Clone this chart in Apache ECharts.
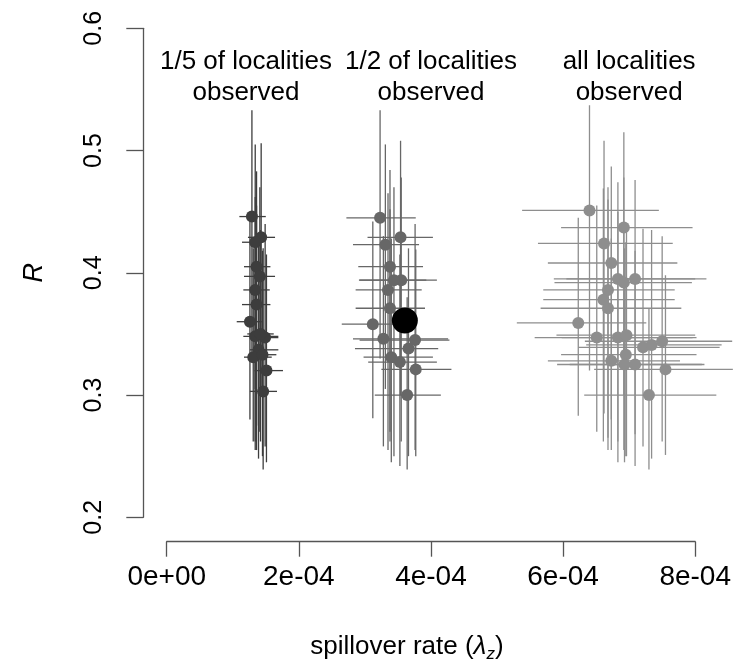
<!DOCTYPE html>
<html>
<head>
<meta charset="utf-8">
<script src="https://cdn.jsdelivr.net/npm/echarts@6/dist/echarts.min.js"></script>
<style>
  html, body { margin: 0; padding: 0; background: #fff; }
  #main { width: 734px; height: 670px; }
</style>
</head>
<body>
<div id="main"></div>
<script>
// spillover rate in units of 1e-4
const xTickLabels = ['0e+00', '2e-04', '4e-04', '6e-04', '8e-04'];

// 1/5 of localities observed
const g1X   = [1.29, 1.43, 1.34, 1.36, 1.41, 1.34, 1.36, 1.26, 1.34, 1.49, 1.42, 1.39, 1.31, 1.45, 1.51, 1.46];
const g1Y   = [0.446, 0.429, 0.425, 0.405, 0.397, 0.386, 0.374, 0.360, 0.348, 0.347, 0.350, 0.337, 0.331, 0.333, 0.320, 0.303];
const g1XLo = [1.10, 1.23, 1.14, 1.17, 1.17, 1.16, 1.14, 1.06, 1.16, 1.30, 1.22, 1.26, 1.17, 1.28, 1.33, 1.26];
const g1XHi = [1.50, 1.64, 1.44, 1.57, 1.64, 1.56, 1.57, 1.44, 1.69, 1.69, 1.62, 1.69, 1.59, 1.66, 1.76, 1.67];
const g1YLo = [0.330, 0.300, 0.305, 0.275, 0.270, 0.262, 0.255, 0.280, 0.255, 0.258, 0.262, 0.248, 0.262, 0.250, 0.245, 0.239];
const g1YHi = [0.533, 0.506, 0.505, 0.483, 0.470, 0.462, 0.455, 0.445, 0.430, 0.440, 0.435, 0.425, 0.420, 0.418, 0.415, 0.420];

// 1/2 of localities observed
const g2X   = [3.23, 3.54, 3.31, 3.38, 3.55, 3.44, 3.35, 3.38, 3.12, 3.28, 3.76, 3.66, 3.40, 3.53, 3.77, 3.64];
const g2Y   = [0.445, 0.429, 0.423, 0.405, 0.394, 0.394, 0.386, 0.371, 0.358, 0.346, 0.345, 0.338, 0.331, 0.327, 0.321, 0.300];
const g2XLo = [2.72, 3.04, 2.82, 2.90, 2.91, 2.92, 2.86, 2.86, 2.65, 2.82, 2.92, 2.85, 2.98, 3.05, 3.25, 3.15];
const g2XHi = [3.77, 4.03, 3.82, 3.88, 4.09, 3.93, 3.86, 3.91, 3.63, 4.26, 4.28, 4.11, 4.03, 4.09, 4.31, 4.15];
const g2YLo = [0.330, 0.300, 0.305, 0.270, 0.262, 0.250, 0.255, 0.262, 0.281, 0.258, 0.255, 0.250, 0.245, 0.242, 0.250, 0.239];
const g2YHi = [0.533, 0.508, 0.505, 0.484, 0.478, 0.470, 0.465, 0.452, 0.442, 0.430, 0.440, 0.420, 0.428, 0.415, 0.419, 0.380];

// all localities observed
const g3X   = [6.40, 6.92, 6.62, 6.73, 6.83, 6.92, 7.09, 6.68, 6.61, 6.68, 6.23, 6.51, 6.83, 6.96, 7.21, 7.34, 7.50, 6.95, 6.73, 6.93, 7.09, 7.55, 7.30];
const g3Y   = [0.451, 0.437, 0.424, 0.408, 0.395, 0.392, 0.395, 0.386, 0.378, 0.371, 0.359, 0.347, 0.347, 0.349, 0.339, 0.341, 0.344, 0.333, 0.328, 0.325, 0.325, 0.321, 0.300];
const g3XLo = [5.38, 5.97, 5.62, 5.77, 5.86, 5.87, 6.05, 5.70, 5.70, 5.66, 5.30, 5.57, 5.98, 5.90, 6.23, 6.35, 6.33, 5.97, 5.77, 5.91, 6.10, 6.47, 6.32];
const g3XHi = [7.45, 7.96, 7.66, 7.73, 8.17, 7.95, 8.00, 7.69, 7.69, 7.79, 7.26, 8.02, 7.96, 8.00, 8.37, 8.40, 8.56, 8.02, 7.77, 8.14, 8.10, 8.57, 8.32];
const g3YLo = [0.320, 0.300, 0.285, 0.280, 0.262, 0.255, 0.268, 0.265, 0.262, 0.255, 0.283, 0.270, 0.245, 0.250, 0.258, 0.248, 0.262, 0.250, 0.255, 0.245, 0.242, 0.251, 0.239];
const g3YHi = [0.537, 0.515, 0.508, 0.487, 0.474, 0.478, 0.476, 0.470, 0.469, 0.460, 0.445, 0.455, 0.450, 0.440, 0.436, 0.435, 0.430, 0.425, 0.428, 0.420, 0.418, 0.398, 0.371];

// true value
const trueX = [3.605];
const trueY = [0.361];

const groupLabels = ['1/5 of localities\nobserved', '1/2 of localities\nobserved', 'all localities\nobserved'];
const groupLabelX = [1.2, 4.0, 7.0];
const groupLabelY = 0.56;

const groups = [
  { x: g1X, y: g1Y, xlo: g1XLo, xhi: g1XHi, ylo: g1YLo, yhi: g1YHi, color: '#3d3d3d' },
  { x: g2X, y: g2Y, xlo: g2XLo, xhi: g2XHi, ylo: g2YLo, yhi: g2YHi, color: '#676767' },
  { x: g3X, y: g3Y, xlo: g3XLo, xhi: g3XHi, ylo: g3YLo, yhi: g3YHi, color: '#8e8e8e' }
];

function errorBars(color) {
  return function (params, api) {
    const x = api.value(0), y = api.value(1);
    const l = api.coord([api.value(2), y]);
    const r = api.coord([api.value(3), y]);
    const b = api.coord([x, api.value(4)]);
    const t = api.coord([x, api.value(5)]);
    const st = { stroke: color, lineWidth: 1.3 };
    return {
      type: 'group',
      children: [
        { type: 'line', shape: { x1: l[0], y1: l[1], x2: r[0], y2: r[1] }, style: st },
        { type: 'line', shape: { x1: b[0], y1: b[1], x2: t[0], y2: t[1] }, style: st }
      ]
    };
  };
}

const series = [];
groups.forEach(function (g) {
  series.push({
    type: 'custom',
    clip: false,
    renderItem: errorBars(g.color),
    encode: { x: 0, y: 1 },
    data: g.x.map(function (v, i) { return [v, g.y[i], g.xlo[i], g.xhi[i], g.ylo[i], g.yhi[i]]; }),
    silent: true
  });
});
groups.forEach(function (g) {
  series.push({
    type: 'scatter',
    clip: false,
    symbolSize: 12,
    itemStyle: { color: g.color, opacity: 1 },
    data: g.x.map(function (v, i) { return [v, g.y[i]]; }),
    silent: true
  });
});
series.push({
  type: 'scatter',
  clip: false,
  symbolSize: 26,
  itemStyle: { color: '#000', opacity: 1 },
  data: trueX.map(function (v, i) { return [v, trueY[i]]; }),
  z: 5
});

const axisColor = '#555';
const font = 'Liberation Sans';

let chart = echarts.init(document.getElementById('main'));
option = {
  animation: false,
  grid: { left: 166.7, right: 38.3, top: 28.3, bottom: 152.7 },
  xAxis: {
    type: 'value',
    min: 0, max: 8, interval: 2,
    offset: 24.4,
    name: 'spillover rate ({l|λ}{s|z})',
    nameLocation: 'middle',
    nameGap: 90,
    nameTextStyle: {
      fontSize: 26, color: '#000', fontFamily: font,
      padding: [0, 48, 0, 0],
      rich: {
        l: { fontSize: 26, fontStyle: 'italic', color: '#000', fontFamily: font },
        s: { fontSize: 17, fontStyle: 'italic', color: '#000', fontFamily: font, padding: [14, 0, 0, 0] }
      }
    },
    axisLine: { show: true, onZero: false, lineStyle: { color: axisColor, width: 1.3 } },
    axisTick: { show: true, length: 15, lineStyle: { color: axisColor, width: 1.3 } },
    axisLabel: {
      fontSize: 28, color: '#000', fontFamily: font, margin: 22,
      formatter: function (v) { return xTickLabels[Math.round(v / 2)]; }
    },
    splitLine: { show: false }
  },
  yAxis: {
    type: 'value',
    min: 0.2, max: 0.6, interval: 0.1,
    offset: 23.4,
    name: 'R',
    nameLocation: 'middle',
    nameGap: 95,
    nameRotate: 90,
    nameTextStyle: { fontSize: 27, fontStyle: 'italic', color: '#000', fontFamily: font },
    axisLine: { show: true, onZero: false, lineStyle: { color: axisColor, width: 1.3 } },
    axisTick: { show: true, length: 17, lineStyle: { color: axisColor, width: 1.3 } },
    axisLabel: {
      fontSize: 25, color: '#000', fontFamily: font, margin: 37, rotate: 90,
      formatter: function (v) { return v.toFixed(1); }
    },
    splitLine: { show: false }
  },
  series: series
};
chart.setOption(option);

const texts = groupLabels.map(function (t, i) {
  const p = chart.convertToPixel({ xAxisIndex: 0, yAxisIndex: 0 }, [groupLabelX[i], groupLabelY]);
  return {
    type: 'text',
    x: p[0], y: p[1],
    style: {
      text: t, fill: '#000', fontSize: 26, fontFamily: font,
      lineHeight: 31, align: 'center', verticalAlign: 'middle'
    }
  };
});
chart.setOption({ graphic: texts });
</script>
</body>
</html>
